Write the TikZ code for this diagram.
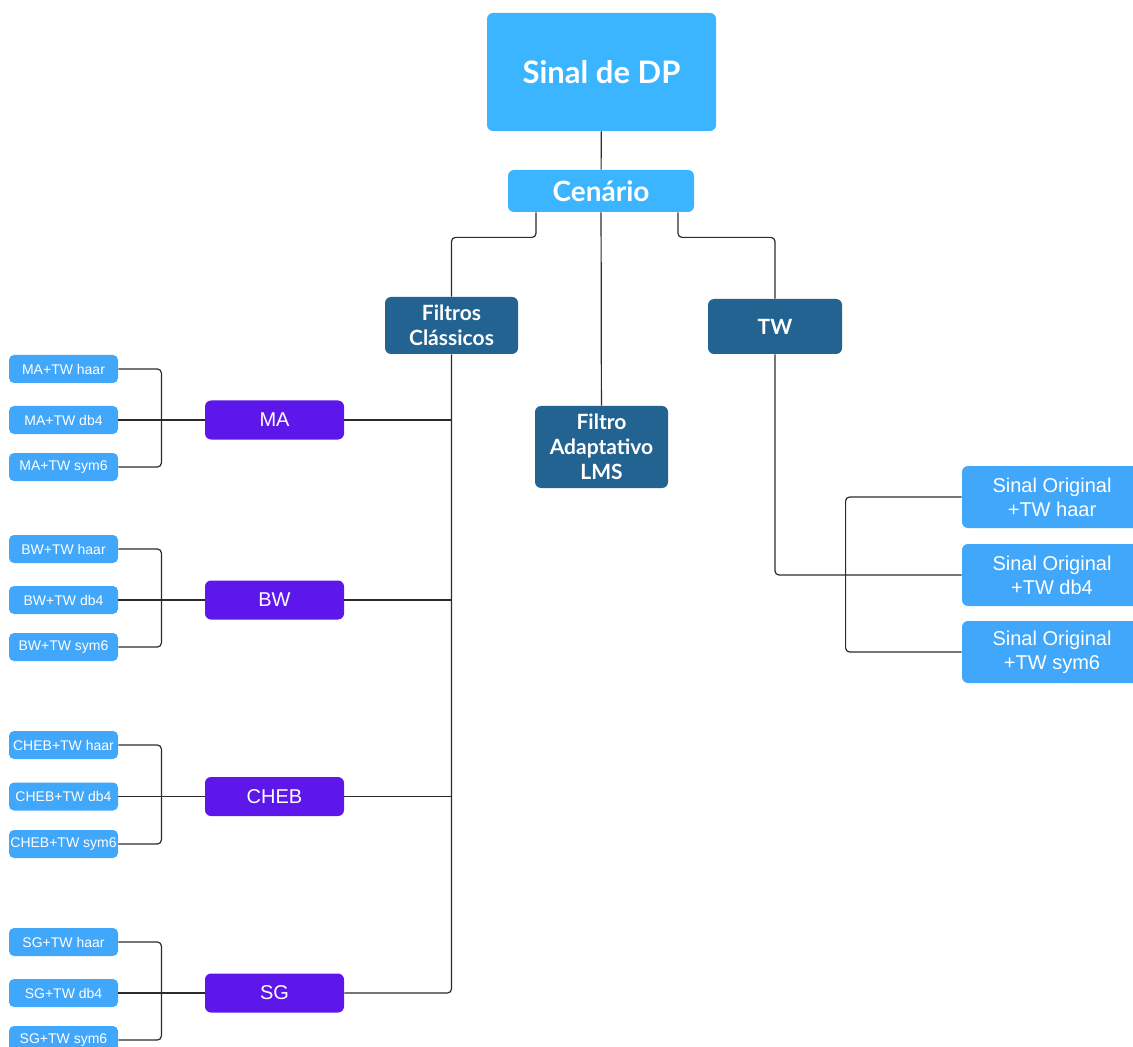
\documentclass[tikz,border=0pt]{standalone}
\usepackage{fontspec}
\setmainfont{Liberation Sans}
\newfontfamily\titlefont{Lato}
\definecolor{skyb}{HTML}{3BB5FF}
\definecolor{lightb}{HTML}{41A7FA}
\definecolor{darkb}{HTML}{236392}
\definecolor{purp}{HTML}{5E17EB}
\definecolor{lnc}{HTML}{2B2B2B}
\begin{document}
\begin{tikzpicture}[x=0.5pt,y=-0.5pt,
  box/.style={rounded corners=3pt, inner sep=0pt, align=center, text=white},
  topbox/.style={box, fill=skyb, font=\titlefont\bfseries\fontsize{15.5}{18}\selectfont},
  cenbox/.style={box, fill=skyb, font=\titlefont\bfseries\fontsize{14}{16}\selectfont, minimum width=93pt, minimum height=21pt},
  catbox/.style={box, fill=darkb, font=\titlefont\bfseries\fontsize{10.5}{12.5}\selectfont},
  fbox/.style={box, fill=purp, font=\fontsize{10}{12}\selectfont, minimum width=69.5pt, minimum height=19.5pt},
  sbox/.style={box, rounded corners=2.5pt, fill=lightb, font=\fontsize{7}{8}\selectfont, minimum width=54.5pt, minimum height=14pt},
  rbox/.style={box, fill=lightb, font=\fontsize{10}{12}\selectfont, minimum width=90pt, minimum height=31pt},
  conn/.style={draw=lnc, line width=0.6pt, rounded corners=2pt}
]
\useasboundingbox (0,0) rectangle (1133,1047);
\clip (0,0) rectangle (1133,1047);

\node[topbox, minimum width=114.5pt, minimum height=59pt] (dp) at (601.5,72) {Sinal de DP};
\node[cenbox] (cen) at (601,191) {Cenário};
\node[catbox, minimum width=66.5pt, minimum height=28.5pt] (fc) at (451.5,325.5) {Filtros\\Clássicos};
\node[catbox, minimum width=67pt, minimum height=27.5pt] (tw) at (775,326.5) {TW};
\node[catbox, minimum width=66.5pt, minimum height=41pt] (lms) at (601.5,447) {Filtro\\Adaptativo\\LMS};

\node[fbox] (ma) at (274.5,420) {MA};
\node[fbox] (bw) at (274.5,600) {BW};
\node[fbox] (cheb) at (274.5,796.5) {CHEB};
\node[fbox] (sg) at (274.5,993) {SG};

\node[sbox] (mah) at (63.5,369) {MA+TW haar};
\node[sbox] (mad) at (63.5,420) {MA+TW db4};
\node[sbox] (mas) at (63.5,467) {MA+TW sym6};
\node[sbox] (bwh) at (63.5,549) {BW+TW haar};
\node[sbox] (bwd) at (63.5,600) {BW+TW db4};
\node[sbox] (bws) at (63.5,647) {BW+TW sym6};
\node[sbox] (chh) at (63.5,745) {CHEB+TW haar};
\node[sbox] (chd) at (63.5,796.5) {CHEB+TW db4};
\node[sbox] (chs) at (63.5,844) {CHEB+TW sym6};
\node[sbox] (sgh) at (63.5,942) {SG+TW haar};
\node[sbox] (sgd) at (63.5,993) {SG+TW db4};
\node[sbox] (sgs) at (63.5,1040) {SG+TW sym6};

\node[rbox] (r1) at (1052,497) {Sinal Original\\+TW haar};
\node[rbox] (r2) at (1052,575) {Sinal Original\\+TW db4};
\node[rbox] (r3) at (1052,652) {Sinal Original\\+TW sym6};

% connectors
\draw[conn] (dp) -- (cen);
\draw[conn] ([xshift=-32.5pt]cen.south) -- ++(0,25) -| (fc.north);
\draw[conn] ([xshift=38.5pt]cen.south) -- ++(0,25) -| (tw.north);
\draw[conn] (cen) -- (lms);

\draw[conn] (fc.south) |- (sg.east);
\draw[conn] (ma.east) -- (ma.east -| fc.south);
\draw[conn] (bw.east) -- (bw.east -| fc.south);
\draw[conn] (cheb.east) -- (cheb.east -| fc.south);

\draw[conn] (mah.east) -- ++(43,0) |- (mas.east);
\draw[conn] (mad.east) -- (mad.east -| ma.west);
\draw[conn] (bwh.east) -- ++(43,0) |- (bws.east);
\draw[conn] (bwd.east) -- (bwd.east -| bw.west);
\draw[conn] (chh.east) -- ++(43,0) |- (chs.east);
\draw[conn] (chd.east) -- (chd.east -| cheb.west);
\draw[conn] (sgh.east) -- ++(43,0) |- (sgs.east);
\draw[conn] (sgd.east) -- (sgd.east -| sg.west);

\draw[conn] (tw.south) |- (r2.west);
\draw[conn] (r1.west) -- ++(-116,0) |- (r3.west);
\end{tikzpicture}
\end{document}
